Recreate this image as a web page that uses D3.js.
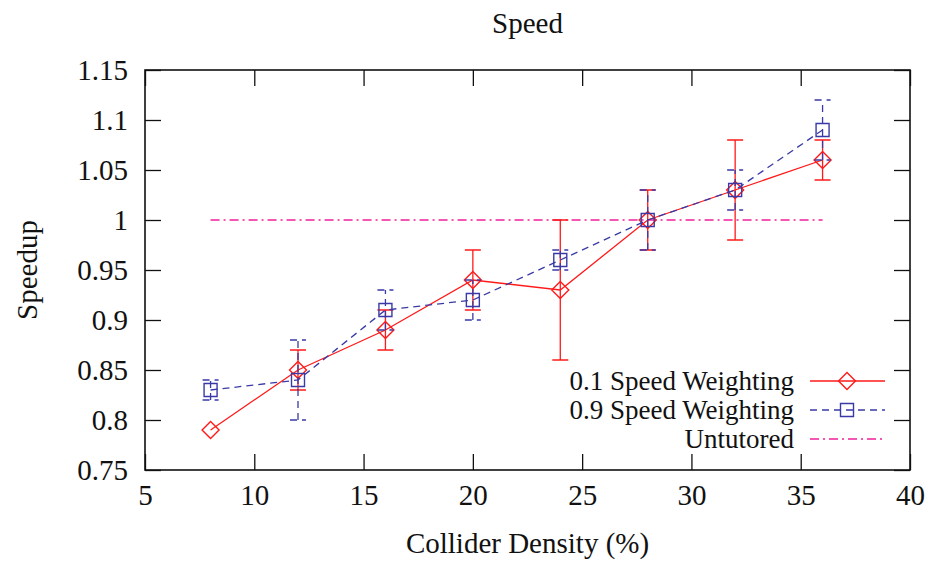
<!DOCTYPE html>
<html>
<head>
<meta charset="utf-8">
<script src="https://cdn.jsdelivr.net/npm/d3@7"></script>
<style>
  body { margin: 0; background: #fff; }
  svg text { font-family: "Liberation Serif", "Times New Roman", "DejaVu Serif", serif; fill: #111; }
</style>
</head>
<body>
<div id="chart"></div>
<script>
// collider density (%)
const density = [8, 12, 16, 20, 24, 28, 32, 36];

// 0.1 speed weighting
const slowMean = [0.79, 0.85, 0.89, 0.94, 0.93, 1.00, 1.03, 1.06];
const slowErr  = [0.00, 0.02, 0.02, 0.03, 0.07, 0.03, 0.05, 0.02];

// 0.9 speed weighting
const fastMean = [0.83, 0.84, 0.91, 0.92, 0.96, 1.00, 1.03, 1.09];
const fastErr  = [0.01, 0.04, 0.02, 0.02, 0.01, 0.03, 0.02, 0.03];

// untutored baseline
const untutored = [1, 1];
const untutoredX = [8, 36];

const xTicks = [5, 10, 15, 20, 25, 30, 35, 40];
const yTicks = [0.75, 0.8, 0.85, 0.9, 0.95, 1, 1.05, 1.1, 1.15];

draw();

function draw() {
    const width = 935;
    const height = 561;
    const margin = {top: 70, right: 25, bottom: 91, left: 145};
    const fontSize = '29px';
    const font = '"Liberation Serif", "Times New Roman", "DejaVu Serif", serif';

    const red = '#ff1a1a';
    const blue = '#3a3aa6';
    const pink = '#f0209a';

    const svg = d3.select('#chart')
        .append('svg')
            .attr('width', width)
            .attr('height', height);

    const x = d3.scaleLinear()
        .domain([5, 40])
        .range([margin.left, width - margin.right]);
    const y = d3.scaleLinear()
        .domain([0.75, 1.15])
        .range([height - margin.bottom, margin.top]);

    const fmt = d => String(+d.toFixed(2));

    // axes, ticks pointing inward, mirrored on top/right
    const tk = 16;
    svg.append('g')
        .attr('transform', `translate(0,${y(0.75)})`)
        .call(d3.axisBottom(x).tickValues(xTicks).tickSize(-tk).tickPadding(14).tickFormat(fmt))
        .call(g => g.select('.domain').remove());
    svg.append('g')
        .attr('transform', `translate(0,${y(1.15)})`)
        .call(d3.axisTop(x).tickValues(xTicks).tickSize(-tk).tickFormat(''))
        .call(g => g.select('.domain').remove());
    svg.append('g')
        .attr('transform', `translate(${x(5)},0)`)
        .call(d3.axisLeft(y).tickValues(yTicks).tickSize(-tk).tickPadding(17).tickFormat(fmt))
        .call(g => g.select('.domain').remove());
    svg.append('g')
        .attr('transform', `translate(${x(40)},0)`)
        .call(d3.axisRight(y).tickValues(yTicks).tickSize(-tk).tickFormat(''))
        .call(g => g.select('.domain').remove());

    svg.selectAll('.tick line').attr('stroke', '#111').attr('stroke-width', 1.3);
    svg.selectAll('.tick text')
        .style('font-size', fontSize)
        .style('font-family', font)
        .attr('fill', '#111');

    svg.append('rect')
        .attr('x', x(5)).attr('y', y(1.15))
        .attr('width', x(40) - x(5)).attr('height', y(0.75) - y(1.15))
        .attr('fill', 'none').attr('stroke', '#111').attr('stroke-width', 1.6);

    // titles
    svg.append('text')
        .attr('x', (x(5) + x(40)) / 2).attr('y', 33)
        .attr('text-anchor', 'middle').style('font-size', fontSize)
        .text('Speed');
    svg.append('text')
        .attr('x', (x(5) + x(40)) / 2).attr('y', 553)
        .attr('text-anchor', 'middle').style('font-size', fontSize)
        .text('Collider Density (%)');
    svg.append('text')
        .attr('transform', `translate(37,${(y(0.75) + y(1.15)) / 2}) rotate(-90)`)
        .attr('text-anchor', 'middle').style('font-size', fontSize)
        .text('Speedup');

    // untutored baseline
    svg.append('path')
        .datum(untutored)
        .attr('fill', 'none')
        .attr('stroke', pink)
        .attr('stroke-width', 1.3)
        .attr('stroke-dasharray', '9,4,2,4')
        .attr('d', d3.line().x((d, i) => x(untutoredX[i])).y(d => y(d)));

    const capW = 8;

    function series(mean, err, color, dash, marker) {
        const g = svg.append('g');
        // error bars
        density.forEach((d, i) => {
            if (err[i] <= 0) return;
            const x0 = x(d), lo = y(mean[i] - err[i]), hi = y(mean[i] + err[i]);
            g.append('path')
                .attr('d', `M${x0},${lo}V${hi}M${x0 - capW},${lo}H${x0 + capW}M${x0 - capW},${hi}H${x0 + capW}`)
                .attr('fill', 'none').attr('stroke', color).attr('stroke-width', 1.3)
                .attr('stroke-dasharray', dash);
        });
        // line
        g.append('path')
            .datum(mean)
            .attr('fill', 'none')
            .attr('stroke', color)
            .attr('stroke-width', 1.3)
            .attr('stroke-dasharray', dash)
            .attr('d', d3.line().x((d, i) => x(density[i])).y(d => y(d)));
        // markers
        g.selectAll('path.pt')
            .data(mean)
            .join('path')
                .attr('class', 'pt')
                .attr('transform', (d, i) => `translate(${x(density[i])},${y(d)})`)
                .attr('d', marker)
                .attr('fill', 'none')
                .attr('stroke', color)
                .attr('stroke-width', 1.4);
    }

    const diamond = 'M0,-8.5L8.5,0L0,8.5L-8.5,0Z';
    const square = 'M-6.5,-6.5H6.5V6.5H-6.5Z';

    series(slowMean, slowErr, red, null, diamond);
    series(fastMean, fastErr, blue, '7,5', square);

    // legend
    const legend = [
        {label: '0.1 Speed Weighting', color: red, dash: null, marker: diamond},
        {label: '0.9 Speed Weighting', color: blue, dash: '7,5', marker: square},
        {label: 'Untutored', color: pink, dash: '9,4,2,4', marker: null}
    ];
    const lg = svg.append('g');
    legend.forEach((l, i) => {
        const cy = 381 + i * 29;
        lg.append('text')
            .attr('x', 794).attr('y', cy + 9)
            .attr('text-anchor', 'end').style('font-size', '27px')
            .text(l.label);
        lg.append('line')
            .attr('x1', 810).attr('x2', 885).attr('y1', cy).attr('y2', cy)
            .attr('stroke', l.color).attr('stroke-width', 1.3)
            .attr('stroke-dasharray', l.dash);
        if (l.marker) {
            lg.append('path')
                .attr('transform', `translate(847,${cy})`)
                .attr('d', l.marker)
                .attr('fill', 'none').attr('stroke', l.color).attr('stroke-width', 1.4);
        }
    });
}
</script>
</body>
</html>
